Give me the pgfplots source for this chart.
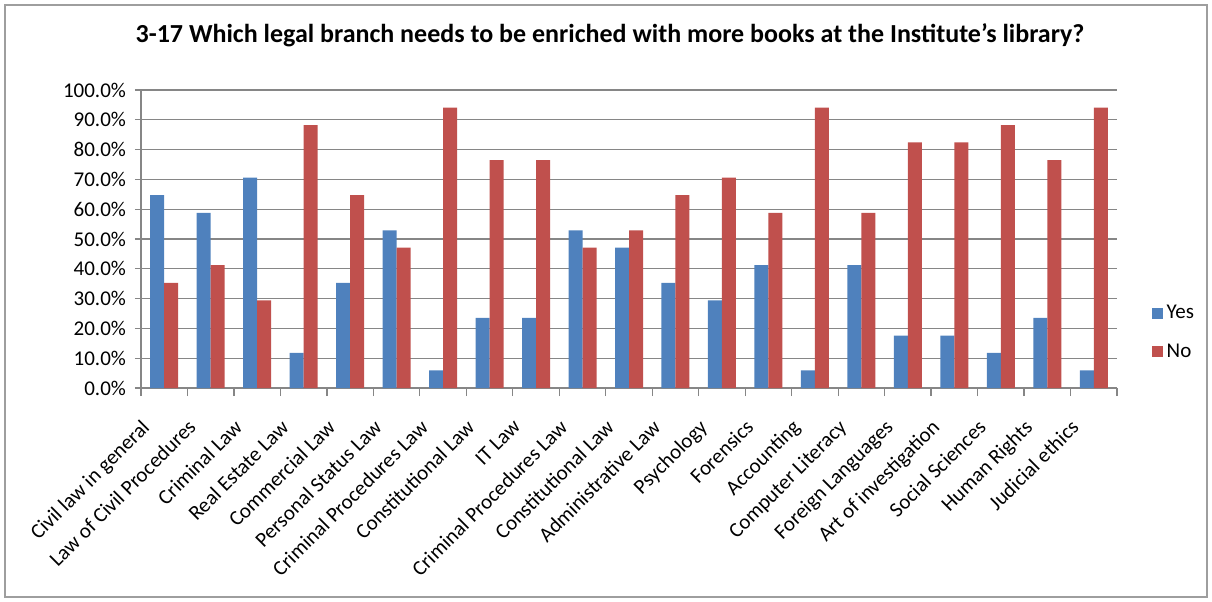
\documentclass[border=0pt]{standalone}
\usepackage{pgfplots}
\pgfplotsset{compat=1.18}
\usepackage{fontspec}
\setmainfont{Carlito}
\definecolor{cblue}{HTML}{4F81BD}
\definecolor{cred}{HTML}{C0504D}
\definecolor{gridc}{RGB}{134,134,134}
\begin{document}
\begin{tikzpicture}
\begin{axis}[
  at={(0pt,0pt)}, anchor=south west,
  scale only axis, width=488pt, height=149pt,
  ybar=0pt, bar width=7pt,
  xmin=-0.5, xmax=20.5, ymin=0, ymax=100,
  ytick={0,10,...,100},
  yticklabel={\pgfmathprintnumber[fixed,fixed zerofill,precision=1]{\tick}\%},
  xtick={0,...,20},
  xticklabels={Civil law in general,Law of Civil Procedures,Criminal Law,Real Estate Law,Commercial Law,Personal Status Law,Criminal Procedures Law,Constitutional Law,IT Law,Criminal Procedures Law,Constitutional Law,Administrative Law,Psychology,Forensics,Accounting,Computer Literacy,Foreign Languages,Art of investigation,Social Sciences,Human Rights,Judicial ethics},
  major x tick style={draw=none},
  minor xtick={-0.5,0.5,...,20.5},
  minor tick length=4pt,
  minor x tick style={gridc, line width=0.6pt},
  xticklabel style={xshift=-12pt, yshift=-10.5pt, rotate=45, anchor=north east, font=\fontsize{10.5}{12}\selectfont, inner sep=1pt},
  yticklabel style={font=\fontsize{10.5}{12}\selectfont, /pgf/number format/assume math mode=true, xshift=-1pt},
  ymajorgrids, grid style={gridc, line width=0.6pt},
  axis x line*=bottom, axis y line*=left,
  axis line style={gridc, line width=0.6pt, -},
  y tick style={gridc, line width=0.6pt},
  major tick length=3pt,
  tick align=outside,
  legend style={at={(1.029,0.186)}, anchor=west, draw=none, fill=none, font=\fontsize{10.5}{12}\selectfont, row sep=7pt, legend cell align=left},
  legend image code/.code={\fill[#1] (0pt,-2.75pt) rectangle (5.5pt,2.75pt);},
]
\addplot[fill=cblue, draw=none] coordinates {
(0,64.7) (1,58.8) (2,70.6) (3,11.8) (4,35.3) (5,52.9) (6,5.9) (7,23.5) (8,23.5) (9,52.9) (10,47.1) (11,35.3) (12,29.4) (13,41.2) (14,5.9) (15,41.2) (16,17.6) (17,17.6) (18,11.8) (19,23.5) (20,5.9)};
\addplot[fill=cred, draw=none] coordinates {
(0,35.3) (1,41.2) (2,29.4) (3,88.2) (4,64.7) (5,47.1) (6,94.1) (7,76.5) (8,76.5) (9,47.1) (10,52.9) (11,64.7) (12,70.6) (13,58.8) (14,94.1) (15,58.8) (16,82.4) (17,82.4) (18,88.2) (19,76.5) (20,94.1)};
\legend{Yes,No}
\end{axis}
\node[font=\bfseries\fontsize{13}{15}\selectfont] at (234.5pt,176.5pt) {3-17 Which legal branch needs to be enriched with more books at the Institute’s library?};
\draw[gridc!80,line width=0.8pt] (-68pt,-104.5pt) rectangle (533pt,191.5pt);
\pgfresetboundingbox
\path[use as bounding box] (-70.5pt,-106.5pt) rectangle (535.5pt,194pt);
\end{tikzpicture}
\end{document}
